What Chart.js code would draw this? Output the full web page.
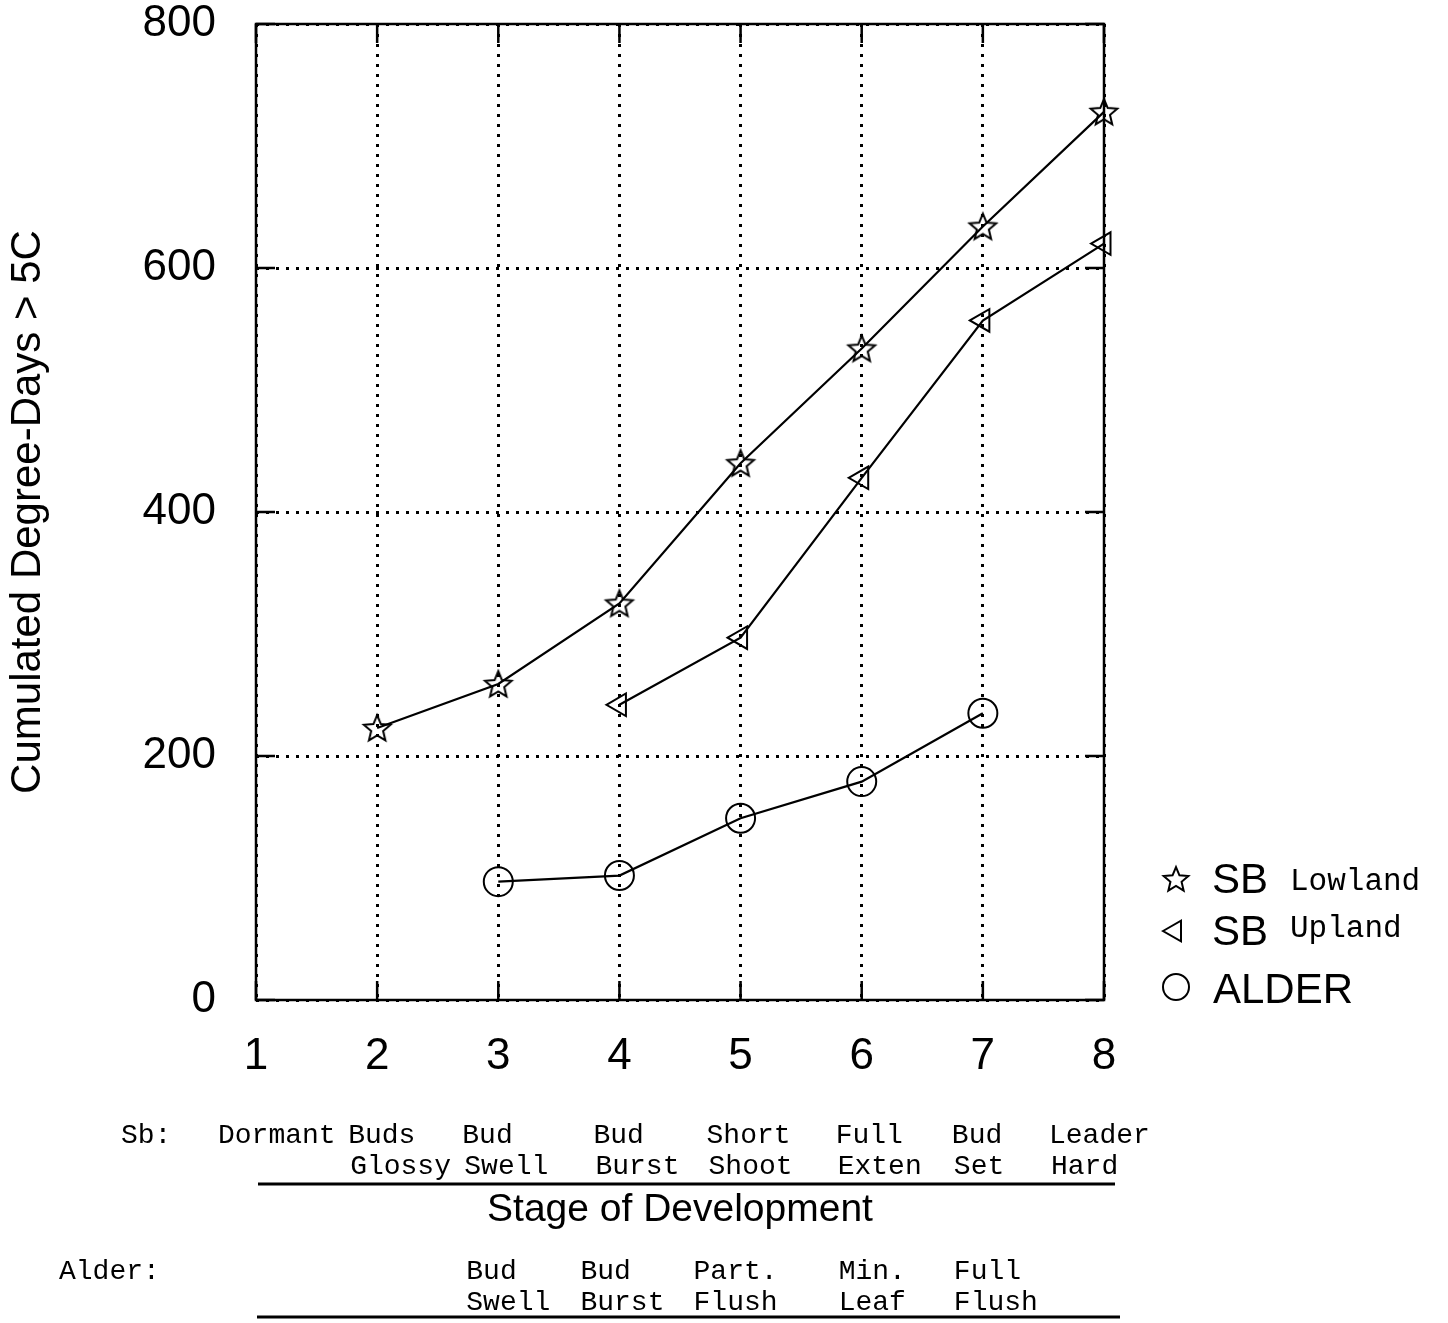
<!DOCTYPE html>
<html>
<head>
<meta charset="utf-8">
<script src="https://cdn.jsdelivr.net/npm/chart.js@4.4.1/dist/chart.umd.min.js"></script>
<style>
  html, body { margin: 0; padding: 0; background: #fff; }
  #wrap { width: 1448px; height: 1323px; position: relative; }
</style>
</head>
<body>
<div id="wrap"><canvas id="chart"></canvas></div>
<script>
// stage of development (x) and cumulated degree-days (y)
const lowlandStages = [2, 3, 4, 5, 6, 7, 8];
const lowlandDD = [223, 259, 325, 440, 534, 634, 728];
const uplandStages = [4, 5, 6, 7, 8];
const uplandDD = [242, 297, 428, 557, 620];
const alderStages = [3, 4, 5, 6, 7];
const alderDD = [97, 102, 149, 179, 235];

const xTicks = [1, 2, 3, 4, 5, 6, 7, 8];
const yTicks = [0, 200, 400, 600, 800];

const sbStages = [1, 2, 3, 4, 5, 6, 7, 8];
const sbLine1 = ['Dormant', 'Buds', 'Bud', 'Bud', 'Short', 'Full', 'Bud', 'Leader'];
const sbLine2 = ['', 'Glossy', 'Swell', 'Burst', 'Shoot', 'Exten', 'Set', 'Hard'];
const alderLabelStages = [3, 4, 5, 6, 7];
const alderLine1 = ['Bud', 'Bud', 'Part.', 'Min.', 'Full'];
const alderLine2 = ['Swell', 'Burst', 'Flush', 'Leaf', 'Flush'];

const SANS = '"Liberation Sans", Arial, Helvetica, sans-serif';
const MONO = '"Courier New", "Liberation Mono", monospace';

function pairs(xs, ys) {
    return xs.map((x, i) => ({x: x, y: ys[i]}));
}

// open five point star used as point style
function makeStar(r, lw) {
    const size = Math.ceil(2 * r + lw * 2 + 4);
    const c = document.createElement('canvas');
    c.width = size;
    c.height = size;
    const g = c.getContext('2d');
    g.translate(size / 2, size / 2 + r * 0.08);
    g.beginPath();
    for (let i = 0; i < 10; i++) {
        const rad = i % 2 ? r * 0.45 : r;
        const a = -Math.PI / 2 + i * Math.PI / 5;
        g.lineTo(rad * Math.cos(a), rad * Math.sin(a));
    }
    g.closePath();
    g.lineWidth = lw;
    g.strokeStyle = '#000';
    g.stroke();
    return c;
}

const plotStar = makeStar(14, 2);
const legendStar = makeStar(13, 2);

// frame, inward ticks, legend and stage labels
const decorPlugin = {
    id: 'decor',
    afterDraw(chart) {
        const ctx = chart.ctx;
        const a = chart.chartArea;
        const xs = chart.scales.x;
        const ys = chart.scales.y;
        ctx.save();
        ctx.strokeStyle = '#000';
        ctx.lineWidth = 2.5;
        ctx.strokeRect(a.left, a.top, a.right - a.left, a.bottom - a.top);

        const tl = 19;
        ctx.beginPath();
        xTicks.forEach(v => {
            const px = xs.getPixelForValue(v);
            ctx.moveTo(px, a.bottom); ctx.lineTo(px, a.bottom - tl);
            ctx.moveTo(px, a.top); ctx.lineTo(px, a.top + tl);
        });
        yTicks.forEach(v => {
            const py = ys.getPixelForValue(v);
            ctx.moveTo(a.left, py); ctx.lineTo(a.left + tl, py);
            ctx.moveTo(a.right, py); ctx.lineTo(a.right - tl, py);
        });
        ctx.stroke();

        // legend
        const lx = 1176;
        ctx.drawImage(legendStar, lx - legendStar.width / 2, 879 - legendStar.height / 2);
        ctx.lineWidth = 2;
        ctx.fillStyle = 'rgba(0,0,0,0)';
        Chart.helpers.drawPoint(ctx, {pointStyle: 'triangle', rotation: -90, radius: 12, borderWidth: 2}, lx - 1, 931);
        Chart.helpers.drawPoint(ctx, {pointStyle: 'circle', rotation: 0, radius: 13, borderWidth: 2}, lx, 987);
        ctx.fillStyle = '#000';
        ctx.textBaseline = 'alphabetic';
        ctx.textAlign = 'left';
        ctx.font = '42px ' + SANS;
        ctx.fillText('SB', 1212, 893);
        ctx.fillText('SB', 1212, 945);
        ctx.fillText('ALDER', 1213, 1003);
        ctx.font = '31px ' + MONO;
        ctx.fillText('Lowland', 1290, 890);
        ctx.fillText('Upland', 1290, 937);

        // stage labels
        const sbShift = [-38, -29, -36, -26, -34, -26, -31, -55];
        const alShift = [-32, -39, -47, -23, -29];
        ctx.font = '28px ' + MONO;
        ctx.fillText('Sb:', 121, 1143);
        sbStages.forEach((s, i) => {
            const px = xs.getPixelForValue(s) + sbShift[i];
            ctx.fillText(sbLine1[i], px, 1143);
            ctx.fillText(sbLine2[i], px + 2, 1174);
        });
        ctx.fillText('Alder:', 59, 1279);
        alderLabelStages.forEach((s, i) => {
            const px = xs.getPixelForValue(s) + alShift[i];
            ctx.fillText(alderLine1[i], px, 1279);
            ctx.fillText(alderLine2[i], px, 1310);
        });
        ctx.lineWidth = 3;
        ctx.beginPath();
        ctx.moveTo(258, 1184); ctx.lineTo(1115, 1184);
        ctx.moveTo(257, 1317); ctx.lineTo(1120, 1317);
        ctx.stroke();

        ctx.font = '39px ' + SANS;
        ctx.textAlign = 'center';
        ctx.fillText('Stage of Development', 680, 1221);
        ctx.restore();
    }
};

const lineStyle = {
    borderColor: '#000',
    borderWidth: 2.2,
    pointBorderColor: '#000',
    pointBackgroundColor: 'rgba(0,0,0,0)',
    pointBorderWidth: 2,
    tension: 0,
    fill: false,
    clip: false
};

new Chart(document.getElementById('chart'), {
    type: 'line',
    data: {
        datasets: [
            Object.assign({label: 'SB Lowland', data: pairs(lowlandStages, lowlandDD), pointStyle: plotStar, pointRadius: 14}, lineStyle),
            Object.assign({label: 'SB Upland', data: pairs(uplandStages, uplandDD), pointStyle: 'triangle', pointRotation: -90, pointRadius: 13}, lineStyle),
            Object.assign({label: 'ALDER', data: pairs(alderStages, alderDD), pointStyle: 'circle', pointRadius: 14.5}, lineStyle)
        ]
    },
    options: {
        responsive: true,
        maintainAspectRatio: false,
        animation: false,
        layout: {padding: {left: 0, top: 24, right: 344, bottom: 0}},
        plugins: {
            legend: {display: false},
            tooltip: {enabled: false}
        },
        scales: {
            x: {
                type: 'linear',
                min: 1,
                max: 8,
                afterFit: function(scale) { scale.height = 323; },
                afterBuildTicks: function(scale) { scale.ticks = xTicks.map(v => ({value: v})); },
                ticks: {color: '#000', padding: 30, font: {family: SANS, size: 44}},
                grid: {color: '#000', lineWidth: 3, drawTicks: false},
                border: {display: false, dash: [3, 7]}
            },
            y: {
                min: 0,
                max: 800,
                afterFit: function(scale) {
                    scale.width = 256;
                    scale.paddingTop = 0;
                    scale.paddingBottom = 0;
                },
                afterBuildTicks: function(scale) { scale.ticks = yTicks.map(v => ({value: v})); },
                ticks: {color: '#000', padding: 40, font: {family: SANS, size: 44}},
                grid: {color: '#000', lineWidth: 3, drawTicks: false},
                border: {display: false, dash: [3, 7]},
                title: {
                    display: true,
                    text: 'Cumulated Degree-Days > 5C',
                    color: '#000',
                    font: {family: SANS, size: 42},
                    padding: {top: 3, bottom: 0}
                }
            }
        }
    },
    plugins: [decorPlugin]
});
</script>
</body>
</html>
